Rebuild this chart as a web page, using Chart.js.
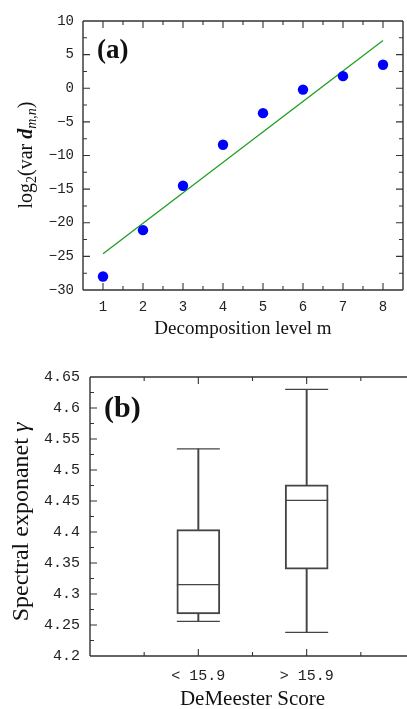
<!DOCTYPE html>
<html><head><meta charset="utf-8">
<script src="https://cdn.jsdelivr.net/npm/chart.js@4.4.1/dist/chart.umd.min.js"></script>
<style>
html,body{margin:0;padding:0;background:#fff;overflow:hidden;width:407px;height:709px;position:relative;}
#c1{position:absolute;left:0;top:0;}
#c2{position:absolute;left:0;top:345px;}
</style></head><body>
<canvas id="c1" width="407" height="345"></canvas>
<canvas id="c2" width="416" height="372"></canvas>
<script>
// ---------- Panel (a) data ----------
const levels = [1, 2, 3, 4, 5, 6, 7, 8];
const logVar = [-28.0, -21.1, -14.5, -8.4, -3.7, -0.2, 1.8, 3.5];
const fitLevels = [1, 8];
const fitLogVar = [-24.6, 7.1];
const aXTicks = [1, 2, 3, 4, 5, 6, 7, 8];
const aYTicks = [-30, -25, -20, -15, -10, -5, 0, 5, 10];

// ---------- Panel (b) data ----------
const groups = ['< 15.9', '> 15.9'];
const groupPos = [1, 2];
const gMin = [4.256, 4.238];
const gQ1  = [4.268, 4.340];
const gMed = [4.315, 4.451];
const gQ3  = [4.404, 4.476];
const gMax = [4.534, 4.630];
const bYTicks = [4.2, 4.25, 4.3, 4.35, 4.4, 4.45, 4.5, 4.55, 4.6, 4.65];

const MONO = '"Liberation Mono", "DejaVu Sans Mono", monospace';
const SERIF = '"Liberation Serif", "DejaVu Serif", serif';
const AX = '#333';
const BOX = '#444';

function minorsOf(majors, min, max) {
  const step = majors[1] - majors[0];
  const out = [];
  majors.forEach(v => {
    [v - step / 2, v + step / 2].forEach(m => {
      if (m > min + 1e-9 && m < max - 1e-9 && !out.some(o => Math.abs(o - m) < 1e-9)) out.push(m);
    });
  });
  return out;
}

const frameTicks = {
  id: 'frameTicks',
  afterDatasetsDraw(chart, args, o) {
    const {ctx, chartArea: a, scales} = chart;
    const xs = scales.x, ys = scales.y;
    ctx.save();
    ctx.strokeStyle = AX;
    ctx.lineWidth = 1.4;
    ctx.beginPath();
    if (o.sides.includes('left')) { ctx.moveTo(a.left, a.top); ctx.lineTo(a.left, a.bottom); }
    if (o.sides.includes('right')) { ctx.moveTo(a.right, a.top); ctx.lineTo(a.right, a.bottom); }
    if (o.sides.includes('top')) { ctx.moveTo(a.left, a.top); ctx.lineTo(a.right, a.top); }
    if (o.sides.includes('bottom')) { ctx.moveTo(a.left, a.bottom); ctx.lineTo(a.right, a.bottom); }
    ctx.stroke();
    ctx.lineWidth = 1.1;
    ctx.beginPath();
    const xMin = minorsOf(o.xMajor, xs.min, xs.max);
    const yMin = minorsOf(o.yMajor, ys.min, ys.max);
    const xt = o.xMajor.map(v => [v, 7]).concat(xMin.map(v => [v, 4]));
    const yt = o.yMajor.map(v => [v, 7]).concat(yMin.map(v => [v, 4]));
    xt.forEach(([v, L]) => {
      const px = xs.getPixelForValue(v);
      if (px < a.left + 1 || px > a.right - 1) return;
      if (o.sides.includes('bottom')) { ctx.moveTo(px, a.bottom); ctx.lineTo(px, a.bottom - L); }
      if (o.sides.includes('top')) { ctx.moveTo(px, a.top); ctx.lineTo(px, a.top + L); }
    });
    yt.forEach(([v, L]) => {
      const py = ys.getPixelForValue(v);
      if (py < a.top + 1 || py > a.bottom - 1) return;
      if (o.sides.includes('left')) { ctx.moveTo(a.left, py); ctx.lineTo(a.left + L, py); }
      if (o.sides.includes('right')) { ctx.moveTo(a.right, py); ctx.lineTo(a.right - L, py); }
    });
    ctx.stroke();
    ctx.restore();
  }
};

const texts = {
  id: 'texts',
  afterDraw(chart, args, o) {
    const ctx = chart.ctx;
    ctx.save();
    ctx.fillStyle = '#111';
    ctx.font = o.panel.font;
    ctx.textAlign = 'left';
    ctx.textBaseline = 'alphabetic';
    ctx.fillText(o.panel.text, o.panel.x, o.panel.y);
    ctx.translate(o.ytitle.x, o.ytitle.y);
    ctx.rotate(-Math.PI / 2);
    let total = 0;
    o.ytitle.segs.forEach(s => { ctx.font = s.font; total += ctx.measureText(s.t).width; });
    let cx = -total / 2;
    o.ytitle.segs.forEach(s => {
      ctx.font = s.font;
      ctx.fillText(s.t, cx, s.dy || 0);
      cx += ctx.measureText(s.t).width;
    });
    ctx.restore();
  }
};

Chart.defaults.animation = false;
Chart.defaults.plugins.legend.display = false;
Chart.defaults.plugins.tooltip.enabled = false;
Chart.defaults.color = '#111';

// ---------- Chart (a) ----------
new Chart(document.getElementById('c1'), {
  type: 'scatter',
  data: {
    datasets: [
      {
        label: 'log2 var',
        data: levels.map((m, i) => ({x: m, y: logVar[i]})),
        backgroundColor: '#0000ff',
        borderColor: '#0000ff',
        pointRadius: 5.2,
        pointBorderWidth: 0
      },
      {
        label: 'fit',
        data: fitLevels.map((m, i) => ({x: m, y: fitLogVar[i]})),
        showLine: true,
        borderColor: '#1f9e1f',
        borderWidth: 1.3,
        pointRadius: 0
      }
    ]
  },
  options: {
    responsive: false,
    layout: {autoPadding: false, padding: {top: 21, right: 4, left: 0, bottom: 0}},
    scales: {
      x: {
        type: 'linear', min: 0.5, max: 8.5,
        afterBuildTicks: s => { s.ticks = aXTicks.map(v => ({value: v})); },
        afterFit: s => { s.height = 55; },
        grid: {display: false, drawTicks: false},
        border: {display: false},
        ticks: {font: {family: MONO, size: 14}, color: '#222', padding: 9, maxRotation: 0,
          callback: v => String(v)},
        title: {display: true, text: 'Decomposition level m', font: {family: SERIF, size: 19},
          color: '#111', padding: {top: 0, bottom: 5}}
      },
      y: {
        type: 'linear', min: -30, max: 10,
        afterBuildTicks: s => { s.ticks = aYTicks.map(v => ({value: v})); },
        afterFit: s => { s.width = 83; },
        grid: {display: false, drawTicks: false},
        border: {display: false},
        ticks: {font: {family: MONO, size: 14}, color: '#222', padding: 9,
          callback: v => (v < 0 ? '\u2212' + Math.abs(v) : String(v))}
      }
    },
    plugins: {
      frameTicks: {sides: ['left', 'right', 'top', 'bottom'], xMajor: aXTicks, yMajor: aYTicks},
      texts: {
        panel: {text: '(a)', font: 'bold 27px ' + SERIF, x: 97, y: 57.5},
        ytitle: {x: 31.5, y: 155, segs: [
          {t: 'log', font: '20px ' + SERIF},
          {t: '2', font: '14px ' + SERIF, dy: 4},
          {t: '(var ', font: '20px ' + SERIF},
          {t: 'd', font: 'bold italic 20px ' + SERIF},
          {t: 'm,n', font: 'italic 14px ' + SERIF, dy: 4},
          {t: ')', font: '20px ' + SERIF}
        ]}
      }
    }
  },
  plugins: [frameTicks, texts]
});

// ---------- Chart (b) ----------
const barCommon = {type: 'bar', grouped: false, borderSkipped: false};
new Chart(document.getElementById('c2'), {
  type: 'scatter',
  data: {
    datasets: [
      Object.assign({}, barCommon, {
        label: 'box',
        data: groupPos.map((x, i) => ({x, y: [gQ1[i], gQ3[i]]})),
        backgroundColor: 'rgba(255,255,255,0)',
        borderColor: BOX, borderWidth: 1.3, barThickness: 43
      }),
      Object.assign({}, barCommon, {
        label: 'upper whisker',
        data: groupPos.map((x, i) => ({x, y: [gQ3[i], gMax[i]]})),
        backgroundColor: BOX, borderWidth: 0, barThickness: 1.3
      }),
      Object.assign({}, barCommon, {
        label: 'lower whisker',
        data: groupPos.map((x, i) => ({x, y: [gMin[i], gQ1[i]]})),
        backgroundColor: BOX, borderWidth: 0, barThickness: 1.3
      }),
      {
        label: 'median',
        data: groupPos.map((x, i) => ({x, y: gMed[i]})),
        pointStyle: 'line', pointRadius: 21.5, borderColor: BOX, pointBorderWidth: 1.3, borderWidth: 1.3
      },
      {
        label: 'caps',
        data: groupPos.map((x, i) => ({x, y: gMax[i]})).concat(groupPos.map((x, i) => ({x, y: gMin[i]}))),
        pointStyle: 'line', pointRadius: 21.5, borderColor: BOX, pointBorderWidth: 1.3, borderWidth: 1.3
      }
    ]
  },
  options: {
    responsive: false,
    layout: {autoPadding: false, padding: {top: 32, right: 1, left: 0, bottom: 0}},
    scales: {
      x: {
        type: 'linear', min: 0, max: 3, offset: false,
        afterBuildTicks: s => { s.ticks = groupPos.map(v => ({value: v})); },
        afterFit: s => { s.height = 61; },
        grid: {display: false, drawTicks: false, offset: false},
        border: {display: false},
        ticks: {font: {family: MONO, size: 15}, color: '#222', padding: 11, maxRotation: 0,
          callback: v => { const k = groupPos.indexOf(v); return k >= 0 ? groups[k] : ''; }},
        title: {display: true, text: 'DeMeester Score', font: {family: SERIF, size: 21},
          color: '#111', padding: {top: 0, bottom: 5}}
      },
      y: {
        type: 'linear', min: 4.2, max: 4.65, beginAtZero: false,
        afterBuildTicks: s => { s.ticks = bYTicks.map(v => ({value: v})); },
        afterFit: s => { s.width = 90; },
        grid: {display: false, drawTicks: false},
        border: {display: false},
        ticks: {font: {family: MONO, size: 15}, color: '#222', padding: 10,
          callback: v => String(v)}
      }
    },
    plugins: {
      frameTicks: {sides: ['left', 'top', 'bottom'], xMajor: groupPos, yMajor: bYTicks},
      texts: {
        panel: {text: '(b)', font: 'bold 30px ' + SERIF, x: 104, y: 71.7},
        ytitle: {x: 28, y: 177, segs: [
          {t: 'Spectral exponanet ', font: '24px ' + SERIF},
          {t: '\u03B3', font: 'italic 24px ' + SERIF}
        ]}
      }
    }
  },
  plugins: [frameTicks, texts]
});
</script>
</body></html>
